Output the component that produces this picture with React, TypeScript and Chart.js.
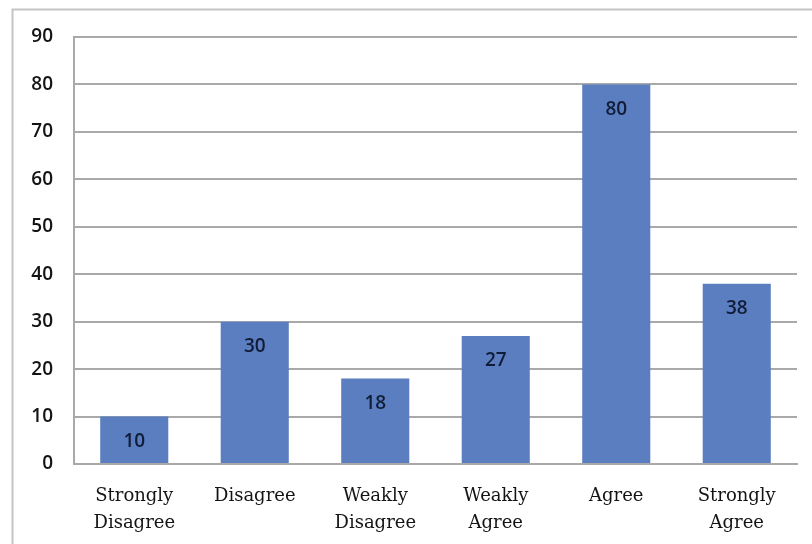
import React, { useEffect, useRef } from "react";
import { Chart, registerables } from "chart.js";

Chart.register(...registerables);

const categories: string[][] = [
  ["Strongly", "Disagree"],
  ["Disagree"],
  ["Weakly", "Disagree"],
  ["Weakly", "Agree"],
  ["Agree"],
  ["Strongly", "Agree"],
];
const values: number[] = [10, 30, 18, 27, 80, 38];
const yMin = 0;
const yMax = 90;
const yStep = 10;

const BAR = "#5b7ec0";
const GRID = "#a9a9a9";

const framePlugin = {
  id: "frame",
  beforeDraw(chart: any) {
    const ctx = chart.ctx;
    ctx.save();
    ctx.fillStyle = "#ffffff";
    ctx.fillRect(0, 0, chart.width, chart.height);
    ctx.strokeStyle = "#c4c4c4";
    ctx.lineWidth = 2;
    ctx.beginPath();
    ctx.moveTo(12.5, chart.height);
    ctx.lineTo(12.5, 9.5);
    ctx.lineTo(chart.width, 9.5);
    ctx.stroke();
    ctx.restore();
  },
};

const labelPlugin = {
  id: "valueLabels",
  afterDatasetsDraw(chart: any) {
    const ctx = chart.ctx;
    const meta = chart.getDatasetMeta(0);
    ctx.save();
    ctx.fillStyle = "#111d38";
    ctx.font = "600 19px 'Open Sans'";
    ctx.textAlign = "center";
    ctx.textBaseline = "middle";
    meta.data.forEach((bar: any, i: number) => {
      ctx.fillText(String(values[i]), bar.x, bar.y + 25);
    });
    ctx.restore();
  },
};

export default function App() {
  const ref = useRef<HTMLCanvasElement>(null);
  useEffect(() => {
    document.body.style.margin = "0";
    const chart = new Chart(ref.current!, {
      type: "bar",
      data: {
        labels: categories,
        datasets: [
          {
            data: values,
            backgroundColor: BAR,
            borderWidth: 0,
            barPercentage: 0.565,
            categoryPercentage: 1,
          },
        ],
      },
      options: {
        animation: false,
        responsive: false,
        devicePixelRatio: 1,
        layout: { padding: { left: 0, top: 37, right: 15, bottom: 0 } },
        plugins: { legend: { display: false }, tooltip: { enabled: false } },
        scales: {
          x: {
            grid: { display: false, drawTicks: false },
            border: { display: true, color: GRID, width: 2 },
            ticks: {
              color: "#141414",
              font: { family: "'DejaVu Serif'", size: 18, lineHeight: 1.5 },
              padding: 19,
              maxRotation: 0,
              autoSkip: false,
            },
            afterFit(scale: any) {
              scale.height = 80;
            },
          },
          y: {
            min: yMin,
            max: yMax,
            ticks: {
              stepSize: yStep,
              color: "#141414",
              font: { family: "'Open Sans'", size: 19, weight: "600" },
              padding: 21,
            },
            grid: { color: GRID, lineWidth: 2, drawTicks: false },
            border: { display: true, color: GRID, width: 2 },
            afterFit(scale: any) {
              scale.width = 74;
            },
          },
        },
      },
      plugins: [framePlugin, labelPlugin],
    });
    return () => chart.destroy();
  }, []);
  return (
    <div style={{ position: "fixed", left: 0, top: 0, width: 812, height: 544 }}>
      <canvas ref={ref} width={812} height={544} style={{ width: 812, height: 544 }} />
    </div>
  );
}
